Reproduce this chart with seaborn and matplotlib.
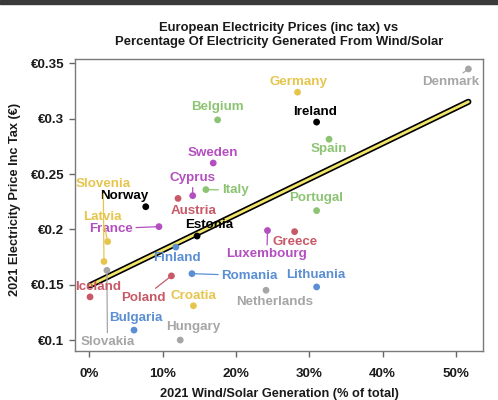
import pandas as pd
import seaborn as sns
import matplotlib.pyplot as plt
import matplotlib.patheffects as pe
from matplotlib.patches import Rectangle
from matplotlib.ticker import FuncFormatter, MultipleLocator

# valeurs
countries = ['Denmark', 'Germany', 'Belgium', 'Ireland', 'Spain', 'Sweden', 'Italy',
             'Cyprus', 'Austria', 'Norway', 'Portugal', 'France', 'Luxembourg', 'Greece',
             'Estonia', 'Latvia', 'Finland', 'Slovenia', 'Slovakia', 'Romania', 'Poland',
             'Lithuania', 'Netherlands', 'Iceland', 'Croatia', 'Bulgaria', 'Hungary']
wind_solar = [51.7, 28.4, 17.5, 31.0, 32.7, 16.9, 15.9,
              14.1, 12.1, 7.7, 31.0, 9.5, 24.3, 28.0,
              14.7, 2.5, 11.8, 2.0, 2.4, 14.0, 11.2,
              31.0, 24.1, 0.1, 14.2, 6.1, 12.4]
price = [0.345, 0.324, 0.299, 0.297, 0.2815, 0.260, 0.236,
         0.2305, 0.228, 0.2205, 0.217, 0.2025, 0.199, 0.198,
         0.194, 0.189, 0.184, 0.171, 0.163, 0.160, 0.158,
         0.148, 0.145, 0.139, 0.131, 0.109, 0.100]
colour_group = ['grey', 'yellow', 'green', 'black', 'green', 'purple', 'green',
                'purple', 'red', 'black', 'green', 'purple', 'purple', 'red',
                'black', 'yellow', 'blue', 'yellow', 'grey', 'blue', 'red',
                'blue', 'grey', 'red', 'yellow', 'blue', 'grey']

PALETTE = {'grey': '#a6a6a6', 'yellow': '#e6c54f', 'green': '#8cc474', 'black': '#000000',
           'purple': '#b44fc0', 'red': '#c85a68', 'blue': '#5b8fd3'}

# decalage des etiquettes (points), et trait de rappel ou non
label_offsets = {
    'Denmark': (-13, -9.5, True), 'Germany': (1, 7.6, False), 'Belgium': (0, 8.9, False),
    'Ireland': (-1.2, 7, False), 'Spain': (-0.5, -6.8, False), 'Sweden': (0, 7.2, False),
    'Italy': (21, -0.5, True), 'Cyprus': (0, 12.5, True), 'Austria': (11.2, -9.1, False),
    'Norway': (-15.5, 8.0, False), 'Portugal': (-0.5, 8.9, False), 'France': (-34.6, -1.4, True),
    'Luxembourg': (-0.4, -17.1, True), 'Greece': (0.2, -7.7, True), 'Estonia': (8.6, 7.7, False),
    'Latvia': (-3.6, 18, True), 'Finland': (0.7, -7.5, False), 'Slovenia': (-0.5, 55.5, True),
    'Slovakia': (0.4, -51.5, True), 'Romania': (41.5, -1.4, True), 'Poland': (-20, -15.6, True),
    'Lithuania': (-0.5, 8.4, False), 'Netherlands': (6.5, -8.4, False), 'Iceland': (6, 7.2, False),
    'Croatia': (0, 7, False), 'Bulgaria': (1.2, 8.4, False), 'Hungary': (9.4, 9.6, False),
}

df = pd.DataFrame({'country': countries, 'wind_solar': wind_solar,
                   'price': price, 'group': colour_group})

sns.set_style('ticks')
plt.rcParams['font.family'] = ['Liberation Sans', 'DejaVu Sans']
plt.rcParams['font.weight'] = 'bold'

fig = plt.figure(figsize=(4.98, 4.0), dpi=100)
ax = fig.add_axes([0.1506, 0.123, 0.8194, 0.7295])

# droite de regression jaune bordee de noir
sns.regplot(data=df, x='wind_solar', y='price', scatter=False, ci=None, ax=ax,
            line_kws={'color': '#f2e66a', 'lw': 2.0, 'solid_capstyle': 'round',
                      'path_effects': [pe.Stroke(linewidth=4.4, foreground='black', capstyle='round'),
                                       pe.Normal()]})

sns.scatterplot(data=df, x='wind_solar', y='price', hue='group', palette=PALETTE,
                s=24, edgecolor='none', legend=False, ax=ax, zorder=3)

for _, row in df.iterrows():
    dx, dy, leader = label_offsets[row['country']]
    col = PALETTE[row['group']]
    arrow = dict(arrowstyle='-', color=col, lw=0.9, shrinkA=0, shrinkB=2) if leader else None
    ax.annotate(row['country'], (row['wind_solar'], row['price']), xytext=(dx, dy),
                textcoords='offset points', ha='center', va='center', color=col,
                fontsize=9.6, fontweight='bold', arrowprops=arrow, zorder=4)

ax.set_xlim(-1.95, 53.7)
ax.set_ylim(0.0903, 0.354)
ax.xaxis.set_major_locator(MultipleLocator(10))
ax.yaxis.set_major_locator(MultipleLocator(0.05))
ax.xaxis.set_major_formatter(FuncFormatter(lambda v, p: f'{v:.0f}%'))
ax.yaxis.set_major_formatter(FuncFormatter(lambda v, p: f'€{v:g}'))
ax.tick_params(axis='both', length=4.3, width=1, color='#666666', labelsize=9.6,
               labelcolor='#1a1a1a')
ax.tick_params(axis='x', pad=8)
ax.tick_params(axis='y', pad=3.5)
for sp in ax.spines.values():
    sp.set_visible(True)
    sp.set_color('#7a7a7a')
    sp.set_linewidth(1)

ax.set_xlabel('2021 Wind/Solar Generation (% of total)', fontsize=9.2, fontweight='bold',
              color='#1a1a1a', labelpad=6)
ax.set_ylabel('2021 Electricity Price Inc Tax (€)', fontsize=9.2, fontweight='bold',
              color='#1a1a1a', labelpad=5)
ax.yaxis.set_label_coords(-0.132, 0.52)
ax.set_title('European Electricity Prices (inc tax) vs\nPercentage Of Electricity Generated From Wind/Solar',
             fontsize=9.4, fontweight='bold', color='#1a1a1a', pad=10, linespacing=1.25)

# bandeau sombre en haut de la capture
fig.patches.append(Rectangle((0, 0.99), 1, 0.01, transform=fig.transFigure,
                             color='#3a3a3a', zorder=0))

fig.savefig('out.png', dpi=100)
